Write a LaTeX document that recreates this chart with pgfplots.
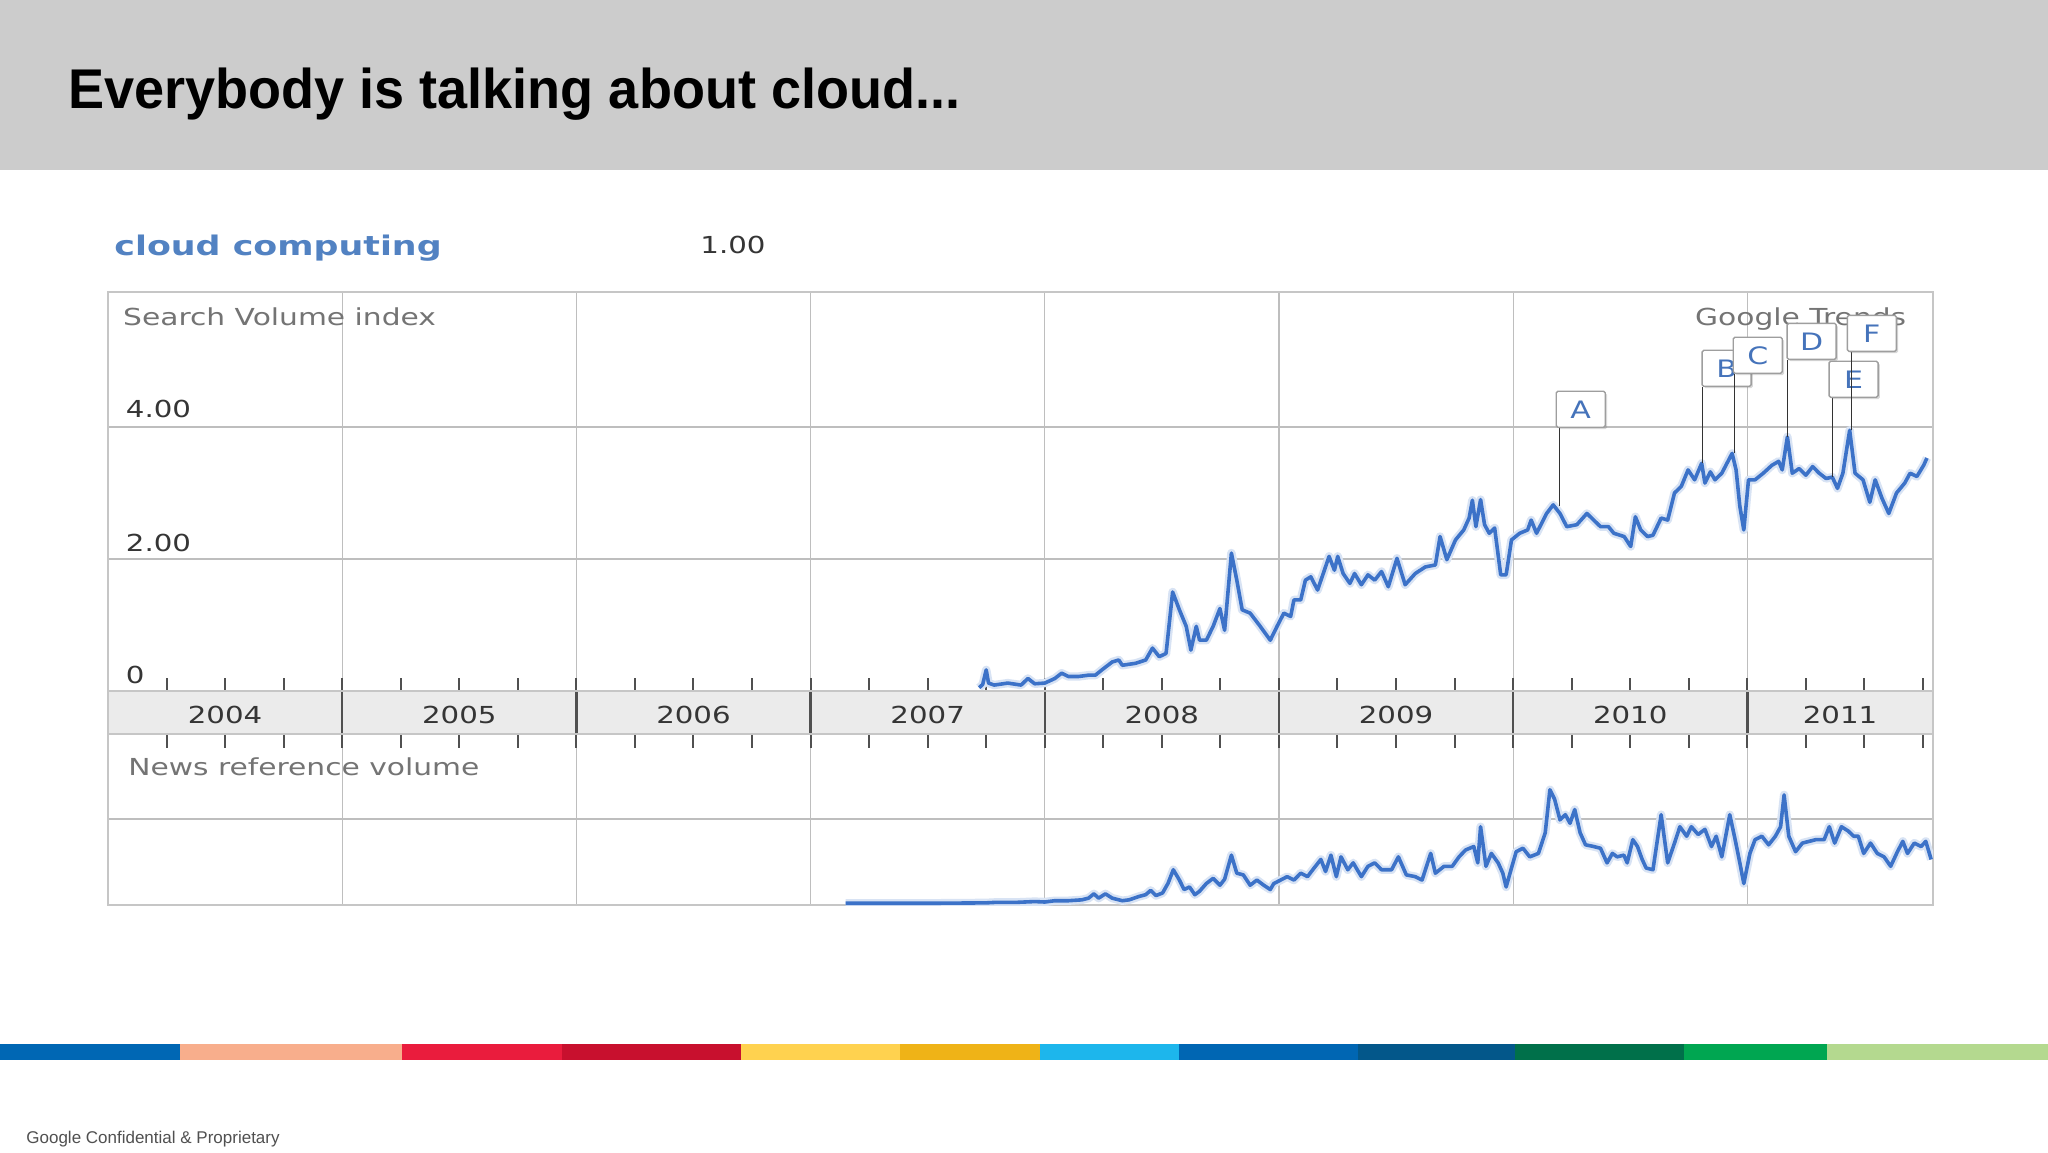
\documentclass[border=0pt]{standalone}
\usepackage{fontspec}
\setmainfont{Liberation Sans}
\newfontfamily\dejavu{DejaVu Sans}
\usepackage{graphicx}
\usepackage{pgfplots}
\pgfplotsset{compat=1.18}
\usetikzlibrary{shadows}

\definecolor{hdr}{HTML}{CCCCCC}
\definecolor{trend}{HTML}{3C72C8}
\definecolor{ccblue}{HTML}{5282C2}
\definecolor{gridc}{HTML}{BEBEBE}
\definecolor{framec}{HTML}{C6C6C6}
\definecolor{bandc}{HTML}{EBEBEB}
\definecolor{lblc}{HTML}{747474}
\definecolor{numc}{HTML}{353535}
\definecolor{tickc}{HTML}{505050}
\definecolor{mkblue}{HTML}{4573BA}
\definecolor{mkframe}{HTML}{9E9E9E}
\definecolor{mkline}{HTML}{333333}
\definecolor{s1}{HTML}{0067B4}
\definecolor{s2}{HTML}{F8AE8C}
\definecolor{s3}{HTML}{EA1C3D}
\definecolor{s4}{HTML}{C8102E}
\definecolor{s5}{HTML}{FFD24F}
\definecolor{s6}{HTML}{EFB317}
\definecolor{s7}{HTML}{1DB6EC}
\definecolor{s8}{HTML}{0066B3}
\definecolor{s9}{HTML}{03578A}
\definecolor{s10}{HTML}{00704A}
\definecolor{s11}{HTML}{00A651}
\definecolor{s12}{HTML}{B4D98F}

\tikzset{
  gtl/.style={font=\dejavu\fontsize{11.7pt}{14pt}\selectfont, inner sep=0pt},
  mkbox/.style={draw=mkframe, fill=white, line width=0.7pt, rounded corners=0.8pt,
    minimum width=24.5pt, minimum height=18pt, inner sep=0pt, text=mkblue,
    font=\dejavu\fontsize{12pt}{14pt}\selectfont, anchor=south west,
    drop shadow={shadow xshift=0.9pt, shadow yshift=-0.9pt, opacity=0.3}},
}

\pgfplotsset{
  trendaxis/.style={
    scale only axis, width=912.5pt,
    xmin=2004, xmax=2011.793,
    axis line style={draw=framec, line width=0.8pt},
    grid=major, major grid style={draw=gridc, line width=0.6pt},
    xtick={2005,2006,2007,2008,2009,2010,2011},
    xticklabels={}, yticklabels={},
    major tick length=0pt, minor tick length=6.75pt, tick align=inside,
    minor tick style={draw=tickc, line width=1pt},
    minor xtick={2004,2004.25,2004.5,2004.75,2005,2005.25,2005.5,2005.75,2006,2006.25,2006.5,2006.75,2007,2007.25,2007.5,2007.75,2008,2008.25,2008.5,2008.75,2009,2009.25,2009.5,2009.75,2010,2010.25,2010.5,2010.75,2011,2011.25,2011.5,2011.75},
  },
  halo/.style={draw=trend!20, line width=4.2pt, line join=round, no markers},
  tline/.style={draw=trend, line width=1.8pt, line join=round, no markers},
  mk/.style={draw=mkline, line width=0.8pt, no markers},
}

\begin{document}
\begin{tikzpicture}
\path[use as bounding box, fill=white] (0,0) rectangle (1024pt,-576pt);
\fill[hdr] (0,0) rectangle (1024pt,-85pt);
\node[anchor=base west, inner sep=0pt, font=\bfseries\fontsize{28pt}{33pt}\selectfont] at (34pt,-54pt) {\scalebox{0.965}[1]{Everybody is talking about cloud...}};
\node[anchor=base west, inner sep=0pt, text=ccblue, font=\dejavu\bfseries\fontsize{13.5pt}{16pt}\selectfont] at (57pt,-127.5pt) {\scalebox{1.29}[1]{cloud computing}};
\node[gtl, anchor=base west, text=numc] at (350pt,-126.5pt) {\scalebox{1.25}[1]{1.00}};

% ---------- search volume panel ----------
\begin{axis}[trendaxis, at={(54pt,-345.5pt)}, anchor=south west, height=199.5pt,
  ymin=0, ymax=6.045, ytick={2,4}, xtick pos=left]
\pgfplotstableread{
x y
2007.72 0.05
2007.735 0.10
2007.75 0.32
2007.76 0.12
2007.784 0.09
2007.842 0.12
2007.899 0.09
2007.928 0.19
2007.957 0.11
2008.000 0.12
2008.043 0.19
2008.072 0.27
2008.101 0.22
2008.144 0.22
2008.187 0.24
2008.216 0.24
2008.244 0.32
2008.288 0.44
2008.316 0.47
2008.331 0.39
2008.388 0.42
2008.431 0.47
2008.460 0.65
2008.489 0.52
2008.518 0.57
2008.546 1.50
2008.575 1.23
2008.604 0.98
2008.624 0.62
2008.647 0.98
2008.661 0.77
2008.690 0.77
2008.719 0.98
2008.748 1.25
2008.768 0.92
2008.797 2.09
2008.820 1.68
2008.843 1.23
2008.877 1.18
2008.920 0.98
2008.963 0.77
2008.992 0.98
2009.021 1.18
2009.050 1.13
2009.064 1.38
2009.093 1.38
2009.113 1.68
2009.136 1.73
2009.165 1.53
2009.194 1.83
2009.214 2.04
2009.237 1.83
2009.251 2.04
2009.274 1.78
2009.303 1.63
2009.323 1.78
2009.352 1.61
2009.380 1.76
2009.409 1.68
2009.438 1.81
2009.467 1.58
2009.504 2.01
2009.539 1.61
2009.582 1.78
2009.625 1.88
2009.668 1.91
2009.688 2.34
2009.717 1.99
2009.754 2.29
2009.789 2.44
2009.812 2.62
2009.826 2.89
2009.841 2.49
2009.861 2.90
2009.878 2.52
2009.898 2.39
2009.921 2.47
2009.947 1.76
2009.970 1.76
2009.993 2.29
2010.028 2.39
2010.062 2.44
2010.077 2.59
2010.100 2.39
2010.143 2.69
2010.171 2.82
2010.200 2.69
2010.229 2.49
2010.272 2.52
2010.315 2.69
2010.344 2.59
2010.373 2.49
2010.407 2.49
2010.430 2.39
2010.474 2.34
2010.502 2.19
2010.522 2.64
2010.545 2.44
2010.574 2.34
2010.597 2.36
2010.632 2.62
2010.660 2.59
2010.689 3.00
2010.718 3.10
2010.747 3.35
2010.775 3.20
2010.805 3.45
2010.819 3.15
2010.842 3.32
2010.862 3.20
2010.891 3.30
2010.935 3.60
2010.952 3.35
2010.968 2.80
2010.985 2.44
2011.005 3.20
2011.033 3.20
2011.068 3.30
2011.105 3.42
2011.134 3.48
2011.149 3.35
2011.171 3.85
2011.192 3.30
2011.221 3.37
2011.250 3.27
2011.279 3.40
2011.307 3.30
2011.336 3.22
2011.363 3.24
2011.385 3.07
2011.408 3.30
2011.437 3.95
2011.460 3.30
2011.494 3.20
2011.523 2.86
2011.546 3.20
2011.575 2.92
2011.604 2.69
2011.637 3.00
2011.672 3.15
2011.695 3.30
2011.724 3.25
2011.753 3.42
2011.767 3.53
}\searchdata
\addplot[halo] table[x=x,y=y] {\searchdata};
\addplot[tline] table[x=x,y=y] {\searchdata};
\node[gtl, text=lblc, anchor=base west] at (axis cs:2004.063,5.545) {\scalebox{1.27}[1]{Search Volume index}};
\node[gtl, text=lblc, anchor=base east] at (axis cs:2011.68,5.545) {\scalebox{1.27}[1]{Google Trends}};
\node[gtl, text=numc, anchor=base west] at (axis cs:2004.075,4.15) {\scalebox{1.25}[1]{4.00}};
\node[gtl, text=numc, anchor=base west] at (axis cs:2004.075,2.11) {\scalebox{1.25}[1]{2.00}};
\node[gtl, text=numc, anchor=base west] at (axis cs:2004.075,0.12) {\scalebox{1.25}[1]{0}};
% annotation markers
\addplot[mk] coordinates {(2010.198,2.80) (2010.198,3.985)};
\node[mkbox] at (axis cs:2010.181,3.985) {\scalebox{1.25}[1]{A}};
\addplot[mk] coordinates {(2010.809,3.45) (2010.809,4.606)};
\node[mkbox] at (axis cs:2010.804,4.606) {\scalebox{1.25}[1]{B}};
\addplot[mk] coordinates {(2010.945,3.60) (2010.945,4.803)};
\node[mkbox] at (axis cs:2010.937,4.803) {\scalebox{1.25}[1]{C}};
\addplot[mk] coordinates {(2011.171,3.85) (2011.171,5.015)};
\node[mkbox] at (axis cs:2011.167,5.015) {\scalebox{1.25}[1]{D}};
\addplot[mk] coordinates {(2011.363,3.24) (2011.363,4.44)};
\node[mkbox] at (axis cs:2011.346,4.44) {\scalebox{1.25}[1]{E}};
\addplot[mk] coordinates {(2011.444,3.95) (2011.444,5.136)};
\node[mkbox] at (axis cs:2011.424,5.136) {\scalebox{1.25}[1]{F}};
\end{axis}

% ---------- year band ----------
\begin{axis}[scale only axis, width=912.5pt, height=21.5pt, at={(54pt,-367pt)}, anchor=south west,
  xmin=2004, xmax=2011.793, ymin=0, ymax=1,
  axis background/.style={fill=bandc},
  axis line style={draw=framec, line width=0.8pt},
  xtick={2005,2006,2007,2008,2009,2010,2011}, xticklabels={}, ytick=\empty,
  xmajorgrids, major grid style={draw=tickc, line width=1.2pt}, major tick length=0pt]
\addplot[draw=none, no markers] coordinates {(2004,0) (2011,1)};
\node[gtl, text=numc, anchor=base] at (axis cs:2004.5,0.256) {\scalebox{1.25}[1]{2004}};
\node[gtl, text=numc, anchor=base] at (axis cs:2005.5,0.256) {\scalebox{1.25}[1]{2005}};
\node[gtl, text=numc, anchor=base] at (axis cs:2006.5,0.256) {\scalebox{1.25}[1]{2006}};
\node[gtl, text=numc, anchor=base] at (axis cs:2007.5,0.256) {\scalebox{1.25}[1]{2007}};
\node[gtl, text=numc, anchor=base] at (axis cs:2008.5,0.256) {\scalebox{1.25}[1]{2008}};
\node[gtl, text=numc, anchor=base] at (axis cs:2009.5,0.256) {\scalebox{1.25}[1]{2009}};
\node[gtl, text=numc, anchor=base] at (axis cs:2010.5,0.256) {\scalebox{1.25}[1]{2010}};
\node[gtl, text=numc, anchor=base] at (axis cs:2011.396,0.256) {\scalebox{1.25}[1]{2011}};
\end{axis}

% ---------- news reference panel ----------
\begin{axis}[trendaxis, at={(54pt,-452.5pt)}, anchor=south west, height=85.5pt,
  ymin=0, ymax=1.988, ytick={1}, xtick pos=right]
\pgfplotstableread{
x y
2007.15 0.02
2007.50 0.02
2007.75 0.025
2007.784 0.03
2007.871 0.03
2007.957 0.04
2008.000 0.035
2008.043 0.05
2008.101 0.05
2008.158 0.06
2008.187 0.08
2008.210 0.13
2008.230 0.08
2008.259 0.13
2008.288 0.08
2008.331 0.05
2008.360 0.06
2008.403 0.10
2008.431 0.12
2008.452 0.17
2008.475 0.11
2008.503 0.14
2008.526 0.25
2008.549 0.41
2008.575 0.29
2008.595 0.18
2008.618 0.21
2008.641 0.12
2008.661 0.16
2008.690 0.25
2008.719 0.31
2008.748 0.23
2008.768 0.30
2008.797 0.58
2008.820 0.37
2008.848 0.35
2008.877 0.23
2008.906 0.29
2008.935 0.23
2008.963 0.18
2008.978 0.25
2009.007 0.29
2009.035 0.33
2009.064 0.29
2009.093 0.37
2009.122 0.33
2009.150 0.43
2009.179 0.53
2009.199 0.39
2009.222 0.58
2009.245 0.33
2009.265 0.56
2009.294 0.41
2009.317 0.49
2009.352 0.33
2009.380 0.45
2009.409 0.49
2009.438 0.41
2009.481 0.41
2009.510 0.56
2009.544 0.35
2009.582 0.33
2009.611 0.29
2009.648 0.60
2009.668 0.37
2009.705 0.45
2009.740 0.45
2009.769 0.56
2009.797 0.64
2009.832 0.68
2009.849 0.49
2009.861 0.91
2009.884 0.45
2009.907 0.60
2009.936 0.49
2009.956 0.37
2009.970 0.21
2009.993 0.43
2010.013 0.62
2010.042 0.66
2010.071 0.56
2010.108 0.60
2010.137 0.84
2010.157 1.34
2010.177 1.23
2010.200 0.99
2010.223 1.05
2010.243 0.95
2010.263 1.11
2010.286 0.84
2010.309 0.70
2010.344 0.68
2010.373 0.66
2010.401 0.49
2010.424 0.60
2010.444 0.56
2010.473 0.58
2010.487 0.49
2010.511 0.76
2010.531 0.68
2010.551 0.53
2010.568 0.43
2010.597 0.41
2010.632 1.05
2010.660 0.49
2010.689 0.72
2010.712 0.91
2010.741 0.80
2010.761 0.91
2010.790 0.82
2010.819 0.88
2010.847 0.68
2010.867 0.80
2010.891 0.56
2010.925 1.05
2010.948 0.76
2010.968 0.49
2010.985 0.25
2011.011 0.60
2011.033 0.76
2011.062 0.80
2011.091 0.70
2011.120 0.80
2011.142 0.91
2011.157 1.28
2011.177 0.80
2011.206 0.62
2011.235 0.72
2011.264 0.74
2011.293 0.76
2011.328 0.76
2011.350 0.91
2011.373 0.72
2011.402 0.91
2011.431 0.86
2011.454 0.80
2011.474 0.80
2011.497 0.60
2011.526 0.72
2011.555 0.60
2011.584 0.56
2011.612 0.45
2011.641 0.62
2011.664 0.74
2011.684 0.60
2011.713 0.72
2011.742 0.68
2011.762 0.74
2011.785 0.53
}\newsdata
\addplot[halo] table[x=x,y=y] {\newsdata};
\addplot[tline] table[x=x,y=y] {\newsdata};
\node[gtl, text=lblc, anchor=base west] at (axis cs:2004.085,1.50) {\scalebox{1.27}[1]{News reference volume}};
\end{axis}

% ---------- colour bar and footer ----------
\fill[s1]  (0pt,-522pt) rectangle (90pt,-530pt);
\fill[s2]  (90pt,-522pt) rectangle (201pt,-530pt);
\fill[s3]  (201pt,-522pt) rectangle (281pt,-530pt);
\fill[s4]  (281pt,-522pt) rectangle (370.5pt,-530pt);
\fill[s5]  (370.5pt,-522pt) rectangle (450pt,-530pt);
\fill[s6]  (450pt,-522pt) rectangle (520pt,-530pt);
\fill[s7]  (520pt,-522pt) rectangle (589.5pt,-530pt);
\fill[s8]  (589.5pt,-522pt) rectangle (679pt,-530pt);
\fill[s9]  (679pt,-522pt) rectangle (757.5pt,-530pt);
\fill[s10] (757.5pt,-522pt) rectangle (842pt,-530pt);
\fill[s11] (842pt,-522pt) rectangle (913.5pt,-530pt);
\fill[s12] (913.5pt,-522pt) rectangle (1024pt,-530pt);
\node[anchor=base west, inner sep=0pt, text=tickc, font=\fontsize{8.5pt}{10pt}\selectfont] at (13pt,-571.5pt) {Google Confidential \& Proprietary};
\end{tikzpicture}
\end{document}
